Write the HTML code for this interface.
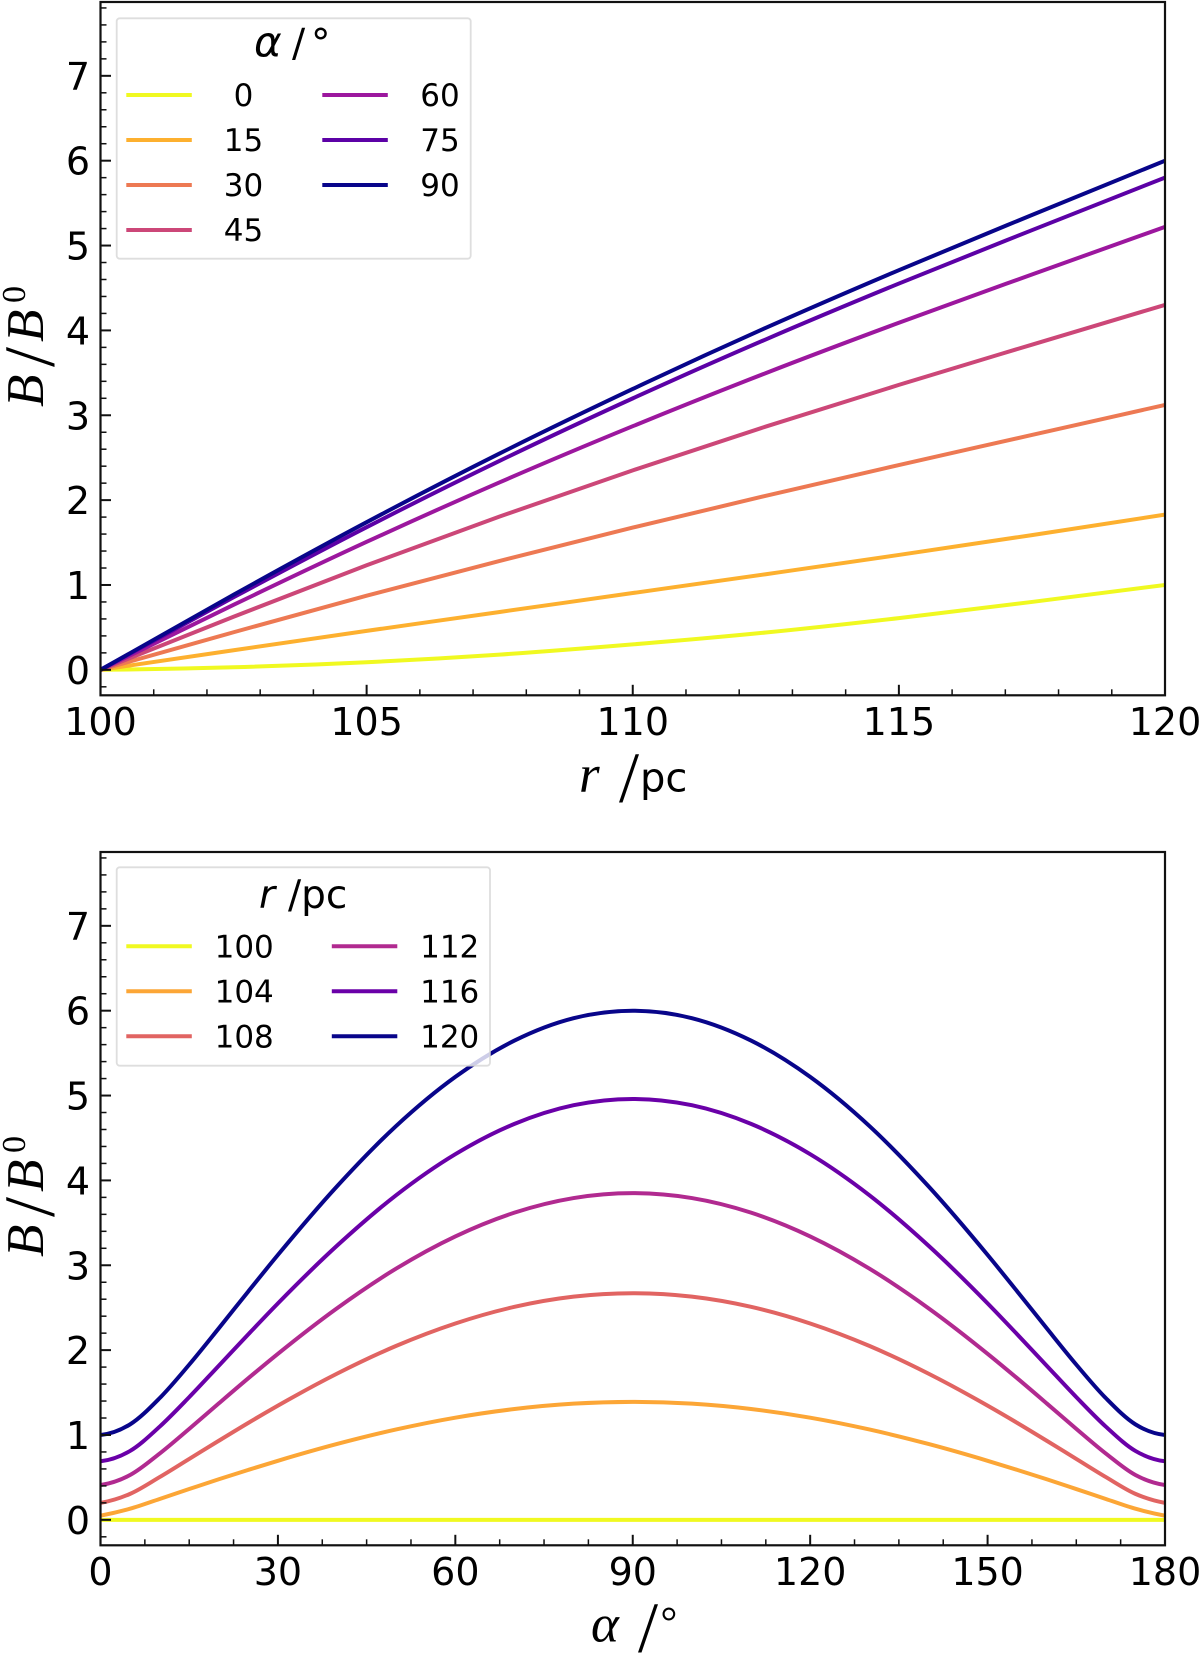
<!DOCTYPE html>
<html lang="en">
<head>
<meta charset="utf-8">
<title>B/B0 versus r and alpha</title>
<style>
html,body{margin:0;padding:0;background:#fff;}
svg{display:block;}
text{fill:#000;font-family:"DejaVu Sans","Liberation Sans",sans-serif;}
.serif{font-family:"Liberation Serif",serif;}
</style>
</head>
<body>
<svg id="figure" xmlns="http://www.w3.org/2000/svg" width="1200" height="1654" viewBox="0 0 1200 1654">
<rect x="0" y="0" width="1200" height="1654" fill="#fff"/>
<defs>
<clipPath id="clip-top"><rect x="100.5" y="2" width="1064.5" height="693.3"/></clipPath>
<clipPath id="clip-bottom"><rect x="100.5" y="852" width="1064.5" height="693.3"/></clipPath>
</defs>
<g id="top-panel"></g>
<g id="bottom-panel"></g>

<g>
<text class="serif" x="579" y="791.5" font-size="53" font-style="italic">r</text>
<text class="serif" x="619" y="802" font-size="72">/</text>
<text x="640" y="791.5" font-size="40">pc</text>
</g>
<g>
<text class="serif" x="591" y="1641.5" font-size="53" font-style="italic">α</text>
<text class="serif" x="638" y="1652" font-size="72">/</text>
<text class="serif" x="660.5" y="1636" font-size="42">°</text>
</g>
<g transform="translate(43,407) rotate(-90)">
<text class="serif" x="0" y="0" font-size="53" font-style="italic">B</text>
<text class="serif" x="40" y="11" font-size="72">/</text>
<text class="serif" x="65" y="0" font-size="53" font-style="italic">B</text>
<text class="serif" x="104" y="-18" font-size="34">0</text>
</g>
<g transform="translate(43,1257) rotate(-90)">
<text class="serif" x="0" y="0" font-size="53" font-style="italic">B</text>
<text class="serif" x="40" y="11" font-size="72">/</text>
<text class="serif" x="65" y="0" font-size="53" font-style="italic">B</text>
<text class="serif" x="104" y="-18" font-size="34">0</text>
</g>
</svg>

<script>
// ---- top panel data: B/B0 against r, one series per alpha ----
var topRadii = [100, 102.5, 105, 107.5, 110, 112.5, 115, 117.5, 120];
var topAlpha0 = [0, 0.03, 0.09, 0.18, 0.30, 0.44, 0.61, 0.80, 1.00];
var topAlpha15 = [0, 0.231, 0.459, 0.682, 0.905, 1.127, 1.354, 1.588, 1.829];
var topAlpha30 = [0, 0.443, 0.874, 1.284, 1.676, 2.051, 2.413, 2.768, 3.122];
var topAlpha45 = [0, 0.626, 1.232, 1.807, 2.351, 2.867, 3.358, 3.832, 4.301];
var topAlpha60 = [0, 0.766, 1.508, 2.210, 2.871, 3.497, 4.090, 4.659, 5.220];
var topAlpha75 = [0, 0.855, 1.681, 2.463, 3.199, 3.894, 4.552, 5.181, 5.801];
var topAlpha90 = [0, 0.885, 1.740, 2.550, 3.310, 4.030, 4.710, 5.360, 6.000];
var topLabels = ['0', '15', '30', '45', '60', '75', '90'];
var topXTickLabels = [100, 105, 110, 115, 120];

// ---- bottom panel data: B/B0 against alpha, one series per r ----
var bottomAlphas = [0, 5, 10, 15, 20, 25, 30, 40, 50, 60, 70, 80, 90, 100, 110, 120, 130, 140, 150, 155, 160, 165, 170, 175, 180];
var bottomR100 = [0, 0, 0, 0, 0, 0, 0, 0, 0, 0, 0, 0, 0, 0, 0, 0, 0, 0, 0, 0, 0, 0, 0, 0, 0];
var bottomR104 = [0.05, 0.131, 0.246, 0.363, 0.478, 0.589, 0.696, 0.894, 1.065, 1.204, 1.306, 1.369, 1.39, 1.369, 1.306, 1.204, 1.065, 0.894, 0.696, 0.589, 0.478, 0.363, 0.246, 0.131, 0.05];
var bottomR108 = [0.20, 0.306, 0.504, 0.718, 0.932, 1.143, 1.346, 1.723, 2.050, 2.314, 2.510, 2.630, 2.67, 2.630, 2.510, 2.314, 2.050, 1.723, 1.346, 1.143, 0.932, 0.718, 0.504, 0.306, 0.20];
var bottomR112 = [0.41, 0.528, 0.781, 1.072, 1.372, 1.669, 1.957, 2.494, 2.961, 3.340, 3.620, 3.792, 3.85, 3.792, 3.620, 3.340, 2.961, 2.494, 1.957, 1.669, 1.372, 1.072, 0.781, 0.528, 0.41];
var bottomR116 = [0.69, 0.812, 1.098, 1.446, 1.816, 2.187, 2.551, 3.231, 3.826, 4.309, 4.666, 4.886, 4.96, 4.886, 4.666, 4.309, 3.826, 3.231, 2.551, 2.187, 1.816, 1.446, 1.098, 0.812, 0.69];
var bottomR120 = [1.00, 1.125, 1.434, 1.829, 2.257, 2.693, 3.122, 3.931, 4.642, 5.220, 5.648, 5.912, 6.00, 5.912, 5.648, 5.220, 4.642, 3.931, 3.122, 2.693, 2.257, 1.829, 1.434, 1.125, 1.00];
var bottomLabels = ['100', '104', '108', '112', '116', '120'];
var bottomXTickLabels = [0, 30, 60, 90, 120, 150, 180];

var yTickLabels = [0, 1, 2, 3, 4, 5, 6, 7];

var SVGNS = 'http://www.w3.org/2000/svg';
var AX_LEFT = 100.5, AX_RIGHT = 1165, Y_MIN = -0.3, Y_MAX = 7.87, AX_H = 693.3;

function make(parent, tag, attrs, text) {
  var el = document.createElementNS(SVGNS, tag);
  for (var k in attrs) { el.setAttribute(k, attrs[k]); }
  if (text !== undefined) { el.textContent = text; }
  parent.appendChild(el);
  return el;
}
function scaleX(v, d0, d1) { return AX_LEFT + (v - d0) / (d1 - d0) * (AX_RIGHT - AX_LEFT); }
function scaleY(v, top) { return top + AX_H - (v - Y_MIN) / (Y_MAX - Y_MIN) * AX_H; }

function tangents(xs, ys) {
  var n = xs.length, m = [];
  for (var i = 1; i < n - 1; i++) {
    var h0 = xs[i] - xs[i - 1], h1 = xs[i + 1] - xs[i];
    var s0 = (ys[i] - ys[i - 1]) / h0, s1 = (ys[i + 1] - ys[i]) / h1;
    m[i] = (s0 * h1 + s1 * h0) / (h0 + h1);
  }
  m[0] = 2 * (ys[1] - ys[0]) / (xs[1] - xs[0]) - m[1];
  m[n - 1] = 2 * (ys[n - 1] - ys[n - 2]) / (xs[n - 1] - xs[n - 2]) - m[n - 2];
  return m;
}
function curvePath(xs, ys, d0, d1, top) {
  var m = tangents(xs, ys);
  var d = 'M' + scaleX(xs[0], d0, d1).toFixed(2) + ' ' + scaleY(ys[0], top).toFixed(2);
  for (var i = 0; i < xs.length - 1; i++) {
    var h = xs[i + 1] - xs[i];
    d += 'C' + scaleX(xs[i] + h / 3, d0, d1).toFixed(2) + ' ' + scaleY(ys[i] + m[i] * h / 3, top).toFixed(2) +
         ' ' + scaleX(xs[i + 1] - h / 3, d0, d1).toFixed(2) + ' ' + scaleY(ys[i + 1] - m[i + 1] * h / 3, top).toFixed(2) +
         ' ' + scaleX(xs[i + 1], d0, d1).toFixed(2) + ' ' + scaleY(ys[i + 1], top).toFixed(2);
  }
  return d;
}

function drawPanel(cfg) {
  var g = document.getElementById(cfg.id);
  var top = cfg.top, bottom = top + AX_H, i, el;

  // series
  var linesGroup = make(g, 'g', { 'clip-path': 'url(#' + cfg.clip + ')' });
  
  
  for (i = 0; i < cfg.series.length; i++) {
    el = make(linesGroup, 'path', {
      d: curvePath(cfg.xs, cfg.series[i], cfg.d0, cfg.d1, top),
      fill: 'none', stroke: cfg.colors[i], 'stroke-width': 4, 'stroke-linejoin': 'round'
    });
    
    
  }

  // legend
  var box = make(g, 'rect', {
    x: cfg.legend.x, y: cfg.legend.y, width: cfg.legend.w, height: cfg.legend.h, rx: 3, ry: 3,
    fill: '#fff', 'fill-opacity': 0.8, stroke: '#d6d6d6', 'stroke-opacity': 0.8, 'stroke-width': 1.8
  });
  
  
  for (i = 0; i < cfg.labels.length; i++) {
    var col = i < cfg.legend.perCol ? 0 : 1;
    var row = i < cfg.legend.perCol ? i : i - cfg.legend.perCol;
    var ly = cfg.legend.rowY + row * 45;
    var lx = cfg.legend.handleX[col];
    el = make(g, 'line', { x1: lx, x2: lx + 65.5, y1: ly, y2: ly, stroke: cfg.colors[i], 'stroke-width': 4 });
    
    
    el = make(g, 'text', { x: cfg.legend.textX[col], y: ly + 11, 'font-size': 31, 'text-anchor': 'middle' }, cfg.labels[i]);
    
    
  }

  // minor and major y ticks
  for (i = -1; i <= 39; i++) {
    var yv = i * 0.2;
    var major = i % 5 === 0 && i >= 0;
    el = make(g, 'line', {
      x1: AX_LEFT, x2: AX_LEFT + (major ? 10.5 : 6), y1: scaleY(yv, top), y2: scaleY(yv, top),
      stroke: '#111', 'stroke-width': major ? 2 : 1.5
    });
    
    
  }
  for (i = 0; i < yTickLabels.length; i++) {
    el = make(g, 'text', { x: 90, y: scaleY(yTickLabels[i], top) + 14, 'font-size': 38, 'text-anchor': 'end' }, String(yTickLabels[i]));
    
    
  }

  // x ticks
  for (var t = cfg.d0; t <= cfg.d1 + 1e-6; t += cfg.minorStep) {
    var isMajor = cfg.xTicks.indexOf(t) >= 0;
    if (t === cfg.d0 || t === cfg.d1) { continue; }
    el = make(g, 'line', {
      x1: scaleX(t, cfg.d0, cfg.d1), x2: scaleX(t, cfg.d0, cfg.d1), y1: bottom, y2: bottom - (isMajor ? 10.5 : 6),
      stroke: '#111', 'stroke-width': isMajor ? 2 : 1.5
    });
    
    
  }
  for (i = 0; i < cfg.xTicks.length; i++) {
    el = make(g, 'text', { x: scaleX(cfg.xTicks[i], cfg.d0, cfg.d1), y: bottom + 39.7, 'font-size': 38, 'text-anchor': 'middle' }, String(cfg.xTicks[i]));
    
    
  }

  // legend title and spines
  cfg.title(g);
  el = make(g, 'rect', { x: AX_LEFT, y: top, width: AX_RIGHT - AX_LEFT, height: AX_H, fill: 'none', stroke: '#111', 'stroke-width': 2.2 });
  
  
}

drawPanel({
  id: 'top-panel', top: 2, clip: 'clip-top', d0: 100, d1: 120, minorStep: 1,
  xs: topRadii,
  series: [topAlpha0, topAlpha15, topAlpha30, topAlpha45, topAlpha60, topAlpha75, topAlpha90],
  colors: ['#f0f921', '#fdb02f', '#ed7953', '#cc4778', '#9c179e', '#5c01a6', '#08058a'],
  labels: topLabels, xTicks: topXTickLabels,
  legend: { x: 116.7, y: 18.3, w: 354, h: 240.4, perCol: 4, rowY: 95, handleX: [126.3, 322.3], textX: [243.5, 440] },
  title: function (g) {
    var t = make(g, 'text', { y: 56.5, 'font-size': 39 });
    
    
    make(t, 'tspan', { x: 254, 'font-style': 'italic', 'font-size': 42 }, 'α');
    make(t, 'tspan', { x: 292 }, '/');
    make(t, 'tspan', { x: 311 }, '°');
  }
});

drawPanel({
  id: 'bottom-panel', top: 852, clip: 'clip-bottom', d0: 0, d1: 180, minorStep: 7.5,
  xs: bottomAlphas,
  series: [bottomR100, bottomR104, bottomR108, bottomR112, bottomR116, bottomR120],
  colors: ['#f0f921', '#fca636', '#e16462', '#b12a90', '#6a00a8', '#08058a'],
  labels: bottomLabels, xTicks: bottomXTickLabels,
  legend: { x: 116.7, y: 867.3, w: 373.3, h: 198.4, perCol: 3, rowY: 946.3, handleX: [126.3, 331.8], textX: [244.2, 449.7] },
  title: function (g) {
    var t = make(g, 'text', { y: 908, 'font-size': 39 });
    
    
    make(t, 'tspan', { x: 259, 'font-style': 'italic' }, 'r');
    make(t, 'tspan', { x: 288 }, '/pc');
  }
});
</script>
</body>
</html>
